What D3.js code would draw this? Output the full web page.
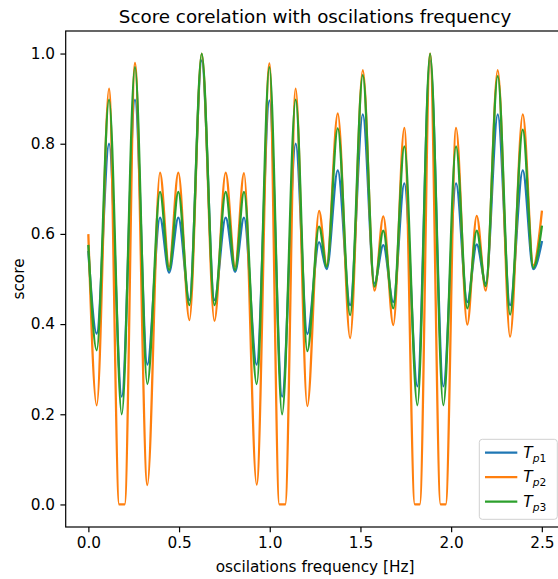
<!DOCTYPE html>
<html>
<head>
<meta charset="utf-8">
<script src="https://cdn.jsdelivr.net/npm/d3@7"></script>
<style>
  body {margin: 0; background: #fff;}
  svg {display: block; font-family: 'DejaVu Sans', sans-serif;}
</style>
</head>
<body>
<div id="graph"></div>
<script>
// extremes, frequency in Hz
var freqs = [0.000, 0.046, 0.114, 0.184, 0.257, 0.325, 0.395, 0.445, 0.496, 0.557,
  0.625, 0.695, 0.757, 0.809, 0.858, 0.928, 0.998, 1.068, 1.143, 1.207,
  1.272, 1.314, 1.375, 1.443, 1.513, 1.577, 1.626, 1.681, 1.742, 1.814,
  1.884, 1.957, 2.027, 2.089, 2.141, 2.191, 2.257, 2.325, 2.395, 2.453, 2.500]

var tp1 = [0.560, 0.379, 0.800, 0.239, 0.898, 0.310, 0.636, 0.514, 0.636, 0.453,
  0.985, 0.453, 0.636, 0.516, 0.636, 0.310, 0.896, 0.239, 0.800, 0.378,
  0.582, 0.522, 0.741, 0.442, 0.865, 0.490, 0.575, 0.449, 0.712, 0.262,
  0.985, 0.262, 0.712, 0.449, 0.577, 0.490, 0.865, 0.442, 0.741, 0.522, 0.582]

var tp3 = [0.573, 0.342, 0.898, 0.200, 0.970, 0.267, 0.693, 0.520, 0.693, 0.442,
  1.000, 0.442, 0.693, 0.520, 0.693, 0.267, 0.970, 0.200, 0.898, 0.340,
  0.616, 0.527, 0.834, 0.420, 0.952, 0.483, 0.607, 0.435, 0.794, 0.220,
  1.000, 0.220, 0.794, 0.435, 0.607, 0.484, 0.950, 0.421, 0.831, 0.525, 0.616]

// T_p2 bottoms out at zero, so it has its own flat stretches
var freqsP2 = [0.000, 0.046, 0.114, 0.170, 0.200, 0.257, 0.325, 0.395, 0.445, 0.496,
  0.557, 0.625, 0.695, 0.757, 0.809, 0.858, 0.928, 0.998, 1.053, 1.085,
  1.143, 1.207, 1.272, 1.314, 1.375, 1.443, 1.513, 1.577, 1.626, 1.681,
  1.742, 1.800, 1.827, 1.884, 1.942, 1.970, 2.027, 2.089, 2.141, 2.191,
  2.257, 2.325, 2.395, 2.453, 2.500]

var tp2 = [0.597, 0.220, 0.922, 0.000, 0.000, 0.979, 0.043, 0.736, 0.527, 0.736,
  0.409, 1.000, 0.407, 0.736, 0.527, 0.735, 0.044, 0.978, 0.000, 0.000,
  0.922, 0.218, 0.651, 0.530, 0.867, 0.369, 0.963, 0.474, 0.639, 0.398,
  0.835, 0.000, 0.000, 1.000, 0.000, 0.000, 0.835, 0.399, 0.640, 0.474,
  0.963, 0.372, 0.865, 0.530, 0.649]

var xTicks = [0, 0.5, 1, 1.5, 2, 2.5]
var yTicks = [0, 0.2, 0.4, 0.6, 0.8, 1]

var series = [
  {name: '1', x: freqs, y: tp1, color: '#1f77b4'},
  {name: '2', x: freqsP2, y: tp2, color: '#ff7f0e'},
  {name: '3', x: freqs, y: tp3, color: '#2ca02c'}
]

var width = 558, height = 579
var box = {left: 65.7, right: 564.5, top: 31, bottom: 527}
var fs = 15.3

var svg = d3.select('#graph').append('svg')
  .attr('width', width).attr('height', height)

svg.append('rect').attr('width', width).attr('height', height).attr('fill', '#fff')

var x = d3.scaleLinear().domain([-0.125, 2.625]).range([box.left, box.right])
var y = d3.scaleLinear().domain([-0.05, 1.05]).range([box.bottom, box.top])

svg.append('clipPath').attr('id', 'clip')
  .append('rect')
  .attr('x', box.left).attr('y', box.top)
  .attr('width', box.right - box.left).attr('height', box.bottom - box.top)

var line = d3.line()
  .x(d => x(d[0]))
  .y(d => y(d[1]))
  .curve(d3.curveMonotoneX)

svg.append('g').attr('clip-path', 'url(#clip)')
  .selectAll('path').data(series).join('path')
  .attr('d', s => line(s.x.map((f, i) => [f, s.y[i]])))
  .attr('fill', 'none')
  .attr('stroke', s => s.color)
  .attr('stroke-width', 2.3)
  .attr('stroke-linejoin', 'round')
  .attr('stroke-linecap', 'square')

// axes
var xAxis = d3.axisBottom(x).tickValues(xTicks).tickFormat(d3.format('.1f'))
  .tickSize(5.3).tickPadding(5.3).tickSizeOuter(0)
var yAxis = d3.axisLeft(y).tickValues(yTicks).tickFormat(d3.format('.1f'))
  .tickSize(5.3).tickPadding(5.3).tickSizeOuter(0)

svg.append('g').attr('transform', `translate(0,${box.bottom})`).call(xAxis)
svg.append('g').attr('transform', `translate(${box.left},0)`).call(yAxis)

svg.selectAll('.domain').remove()
svg.selectAll('.tick line').attr('stroke', '#000').attr('stroke-width', 1.2)
svg.selectAll('.tick text').attr('fill', '#000')
  .style('font-family', "'DejaVu Sans', sans-serif").style('font-size', fs + 'px')

// spines
svg.append('rect')
  .attr('x', box.left).attr('y', box.top)
  .attr('width', box.right - box.left).attr('height', box.bottom - box.top)
  .attr('fill', 'none').attr('stroke', '#000').attr('stroke-width', 1.2)

// text
svg.append('text')
  .attr('x', (box.left + box.right) / 2).attr('y', 22.5)
  .attr('text-anchor', 'middle').style('font-size', '18.3px')
  .text('Score corelation with oscilations frequency')

svg.append('text')
  .attr('x', (box.left + box.right) / 2).attr('y', 572)
  .attr('text-anchor', 'middle').style('font-size', fs + 'px')
  .text('oscilations frequency [Hz]')

svg.append('text')
  .attr('transform', `translate(23.5,${(box.top + box.bottom) / 2}) rotate(-90)`)
  .attr('text-anchor', 'middle').style('font-size', fs + 'px')
  .text('score')

// legend
var legend = svg.append('g').attr('transform', 'translate(479.3,439.3)')

legend.append('rect')
  .attr('width', 78).attr('height', 80).attr('rx', 3)
  .attr('fill', '#fff').attr('fill-opacity', 0.8)
  .attr('stroke', '#d0d0d0').attr('stroke-width', 1)

var item = legend.selectAll('g.item').data(series).join('g')
  .attr('class', 'item')
  .attr('transform', (d, i) => `translate(0,${13.4 + i * 24.5})`)

item.append('line')
  .attr('x1', 5.7).attr('x2', 38)
  .attr('stroke', d => d.color).attr('stroke-width', 2.3)

var label = item.append('text')
  .attr('x', 44).attr('y', 5)
  .style('font-size', fs + 'px')

label.append('tspan').style('font-style', 'italic').text('T')
label.append('tspan').attr('dy', 4).style('font-size', '10.7px').style('font-style', 'italic').text('p')
label.append('tspan').style('font-size', '10.7px').text(d => d.name)
</script>
</body>
</html>
